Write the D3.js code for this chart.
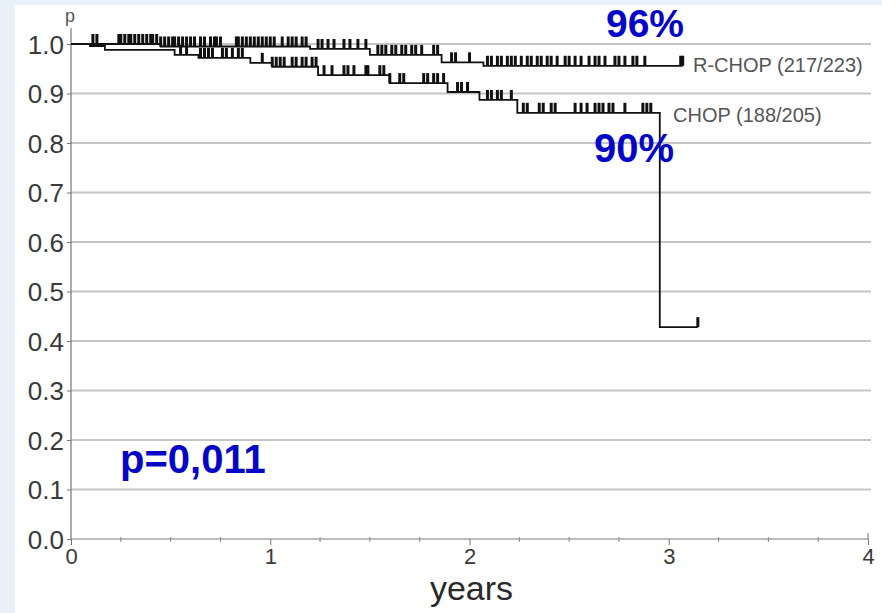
<!DOCTYPE html>
<html>
<head>
<meta charset="utf-8">
<script src="https://cdn.jsdelivr.net/npm/d3@7"></script>
<style>
  body { margin: 0; background: #e8f1f9; }
  svg { display: block; }
</style>
</head>
<body>
<svg id="chart" width="882" height="613"></svg>
<script>
// step points of the two Kaplan-Meier curves (years, survival)
var rchopTimes = [0, 0.45, 1.2, 1.5, 1.86, 2.07, 3.07];
var rchopSurv = [1.0, 0.995, 0.99, 0.978, 0.963, 0.956, 0.956];

var chopTimes = [0, 0.095, 0.17, 0.52, 0.64, 0.9, 1.01, 1.24, 1.6, 1.89, 2.05, 2.24, 2.955, 3.146];
var chopSurv = [1.0, 0.996, 0.988, 0.978, 0.972, 0.962, 0.954, 0.937, 0.921, 0.903, 0.887, 0.861, 0.428, 0.428];

// censoring ticks (years)
var rchopCensor = [0.11, 0.13, 0.24, 0.25, 0.27, 0.29, 0.30, 0.32, 0.34, 0.36, 0.38, 0.40, 0.41, 0.43,
  0.45, 0.47, 0.49, 0.51, 0.52, 0.54, 0.56, 0.58, 0.60, 0.62, 0.65, 0.67, 0.70, 0.72, 0.73, 0.75,
  0.83, 0.84, 0.86, 0.88, 0.90, 0.92, 0.94, 0.96, 0.98, 1.00, 1.02, 1.06, 1.09, 1.11, 1.13, 1.16,
  1.18, 1.24, 1.26, 1.29, 1.32, 1.37, 1.40, 1.44, 1.48, 1.54, 1.56, 1.58, 1.61, 1.63, 1.66, 1.68,
  1.71, 1.73, 1.76, 1.82, 1.84, 1.91, 1.93, 2.00, 2.09, 2.11, 2.14, 2.16, 2.19, 2.21, 2.23, 2.26,
  2.29, 2.31, 2.34, 2.36, 2.39, 2.41, 2.44, 2.48, 2.50, 2.53, 2.56, 2.60, 2.63, 2.65, 2.68, 2.73,
  2.75, 2.78, 2.82, 2.84, 2.88, 3.06, 3.07];
var chopCensor = [0.55, 0.58, 0.65, 0.67, 0.69, 0.71, 0.76, 0.78, 0.81, 0.84, 0.86, 0.96, 1.01, 1.03,
  1.05, 1.07, 1.11, 1.13, 1.16, 1.18, 1.21, 1.23, 1.27, 1.31, 1.37, 1.39, 1.42, 1.48, 1.49, 1.55,
  1.57, 1.60, 1.65, 1.67, 1.77, 1.79, 1.82, 1.84, 1.87, 1.94, 1.96, 1.99, 2.09, 2.11, 2.14, 2.16,
  2.21, 2.27, 2.29, 2.35, 2.37, 2.41, 2.43, 2.53, 2.56, 2.59, 2.63, 2.65, 2.67, 2.70, 2.72, 2.78,
  2.87, 2.89, 2.91, 3.146];

var yTicks = [0, 0.1, 0.2, 0.3, 0.4, 0.5, 0.6, 0.7, 0.8, 0.9, 1.0];
var xTicks = [0, 1, 2, 3, 4];
var xMinor = [0.25, 0.5, 0.75, 1.25, 1.5, 1.75, 2.25, 2.5, 2.75, 3.25, 3.5, 3.75];

var font = "Liberation Sans, Arial, sans-serif";
var svg = d3.select("#chart");

// white panel over the light blue page
svg.append("rect").attr("x", 15).attr("y", 5).attr("width", 867).attr("height", 608).attr("fill", "#fff");

var x = d3.scaleLinear().domain([0, 4]).range([71, 868]);
var y = d3.scaleLinear().domain([0, 1]).range([539, 44]);

// grid
svg.append("g").selectAll("line")
  .data(yTicks.filter(function (d) { return d > 0; }))
  .enter().append("line")
  .attr("x1", x(0)).attr("x2", 871)
  .attr("y1", function (d) { return y(d); })
  .attr("y2", function (d) { return y(d); })
  .attr("stroke", "#c4c4c4").attr("stroke-width", 2);

// y axis
var yAxis = d3.axisLeft(y).tickValues(yTicks).tickFormat(d3.format(".1f")).tickSize(4).tickPadding(3);
var gy = svg.append("g").attr("transform", "translate(" + x(0) + ",0)").call(yAxis);
gy.select(".domain").remove();
gy.selectAll("line").attr("stroke", "#777");
gy.selectAll("text").attr("font-family", font)
  .attr("font-size", 26).attr("fill", "#3a3a3a").attr("dy", "0.36em");
svg.append("line").attr("x1", x(0)).attr("x2", x(0)).attr("y1", 28).attr("y2", y(0))
  .attr("stroke", "#777").attr("stroke-width", 1.2);
svg.append("text").attr("x", x(0) - 1).attr("y", 22).attr("text-anchor", "middle")
  .attr("font-family", font).attr("font-size", 18).attr("fill", "#555").text("p");

// x axis
var xAxis = d3.axisBottom(x).tickValues(xTicks).tickFormat(d3.format("d")).tickSize(6).tickPadding(3);
var gx = svg.append("g").attr("transform", "translate(0," + y(0) + ")").call(xAxis);
gx.select(".domain").attr("stroke", "#777").attr("d", "M" + x(0) + ",0H" + x(4) + "V-6");
gx.selectAll("line").attr("stroke", "#777");
gx.selectAll("text").attr("font-family", font)
  .attr("font-size", 22).attr("fill", "#3a3a3a");
svg.append("g").selectAll("line").data(xMinor).enter().append("line")
  .attr("x1", function (d) { return x(d); }).attr("x2", function (d) { return x(d); })
  .attr("y1", y(0) - 2).attr("y2", y(0) + 3).attr("stroke", "#888");
svg.append("text").attr("x", x(2) + 2).attr("y", 600).attr("text-anchor", "middle")
  .attr("font-family", font).attr("font-size", 34).attr("fill", "#2a2a2a").text("years");

// curves
function stepData(times, surv) {
  return times.map(function (t, i) { return [t, surv[i]]; });
}
var line = d3.line().x(function (d) { return x(d[0]); }).y(function (d) { return y(d[1]); }).curve(d3.curveStepAfter);

function survAt(times, surv, t) {
  var i = d3.bisectRight(times, t) - 1;
  return surv[Math.max(0, i)];
}

function drawCurve(times, surv, censor) {
  svg.append("path").attr("d", line(stepData(times, surv)))
    .attr("fill", "none").attr("stroke", "#111").attr("stroke-width", 1.8);
  svg.append("g").selectAll("line").data(censor).enter().append("line")
    .attr("x1", function (d) { return x(d); }).attr("x2", function (d) { return x(d); })
    .attr("y1", function (d) { return y(survAt(times, surv, d)); })
    .attr("y2", function (d) { return y(survAt(times, surv, d)) - 10; })
    .attr("stroke", "#111").attr("stroke-width", 3);
}
drawCurve(chopTimes, chopSurv, chopCensor);
drawCurve(rchopTimes, rchopSurv, rchopCensor);

// labels
svg.append("text").attr("x", 693).attr("y", 72).attr("font-family", font).attr("font-size", 20)
  .attr("fill", "#555").text("R-CHOP (217/223)");
svg.append("text").attr("x", 673).attr("y", 122).attr("font-family", font).attr("font-size", 20)
  .attr("fill", "#555").text("CHOP (188/205)");
svg.append("text").attr("x", 645).attr("y", 37).attr("text-anchor", "middle").attr("font-family", font)
  .attr("font-size", 39).attr("font-weight", "bold").attr("fill", "#0606c6").text("96%");
svg.append("text").attr("x", 634).attr("y", 162).attr("text-anchor", "middle").attr("font-family", font)
  .attr("font-size", 40).attr("font-weight", "bold").attr("fill", "#0606c6").text("90%");
svg.append("text").attr("x", 120).attr("y", 473).attr("font-family", font)
  .attr("font-size", 40).attr("font-weight", "bold").attr("fill", "#0606c6").text("p=0,011");
</script>
</body>
</html>
